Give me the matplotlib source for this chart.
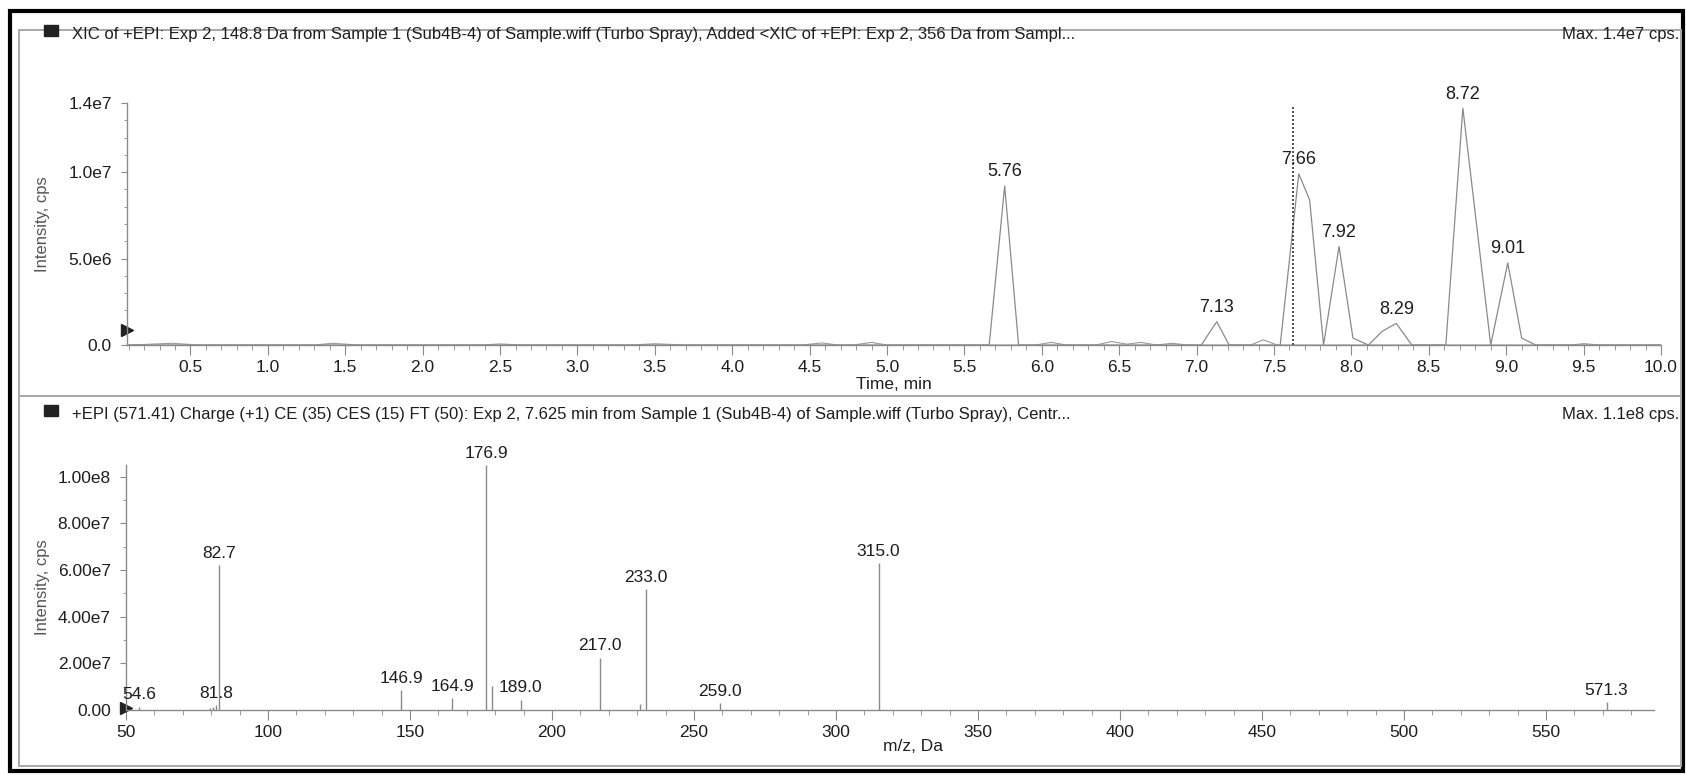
import matplotlib
matplotlib.use("Agg")
import matplotlib.pyplot as plt
from matplotlib.patches import Rectangle
from matplotlib.ticker import MultipleLocator, FixedLocator

plt.rcParams['font.family'] = ['Liberation Sans', 'DejaVu Sans']

# --- XIC (time in min, intensity in cps) ---
xic_t = [0.09, 5.66, 5.76, 5.85, 7.03, 7.13, 7.21, 7.54, 7.66, 7.73, 7.82, 7.92,
         8.01, 8.11, 8.20, 8.29, 8.39, 8.61, 8.72, 8.90, 9.01, 9.10, 9.19, 10.0]
xic_i = [0, 0, 9.2e6, 0, 0, 1.35e6, 0, 0, 9.9e6, 8.4e6, 0, 5.7e6,
         0.4e6, 0, 0.8e6, 1.25e6, 0, 0, 1.37e7, 0, 4.75e6, 0.4e6, 0, 0]

# second added trace, only small bumps
xic2_t = [0.09, 0.2, 0.38, 0.55, 1.3, 1.42, 1.58, 2.38, 2.5, 2.64, 3.35, 3.5, 3.7,
          4.45, 4.58, 4.68, 4.78, 4.9, 5.0, 5.96, 6.06, 6.16, 6.35, 6.45, 6.55,
          6.64, 6.74, 6.84, 6.94, 7.35, 7.43, 7.52, 9.42, 9.5, 9.6, 10.0]
xic2_i = [0, 0.03e6, 0.1e6, 0, 0, 0.1e6, 0, 0, 0.06e6, 0, 0, 0.07e6, 0,
          0, 0.12e6, 0, 0, 0.15e6, 0, 0, 0.15e6, 0, 0, 0.2e6, 0.05e6,
          0.15e6, 0, 0.1e6, 0, 0, 0.3e6, 0, 0, 0.08e6, 0, 0]

xic_labels = [5.76, 7.13, 7.66, 7.92, 8.29, 8.72, 9.01]
spec_rt = 7.625

xic_yticks = [0, 5e6, 1e7, 1.4e7]
xic_yticklabels = ['0.0', '5.0e6', '1.0e7', '1.4e7']

# --- product ion spectrum (m/z, cps) ---
spec_mz = [54.6, 79.6, 80.6, 81.8, 82.7, 146.9, 164.9, 176.9, 178.9, 189.0,
           217.0, 231.0, 233.0, 259.0, 315.0, 571.3]
spec_i = [0.15e7, 0.1e7, 0.15e7, 0.2e7, 6.2e7, 0.85e7, 0.5e7, 1.05e8, 1.02e7,
          0.45e7, 2.25e7, 0.27e7, 5.2e7, 0.3e7, 6.3e7, 0.35e7]
spec_labels = [54.6, 81.8, 82.7, 146.9, 164.9, 176.9, 189.0, 217.0, 233.0,
               259.0, 315.0, 571.3]

spec_yticks = [0, 2e7, 4e7, 6e7, 8e7, 1e8]
spec_yticklabels = ['0.00', '2.00e7', '4.00e7', '6.00e7', '8.00e7', '1.00e8']

header_top = ("XIC of +EPI: Exp 2, 148.8 Da from Sample 1 (Sub4B-4) of Sample.wiff "
              "(Turbo Spray), Added <XIC of +EPI: Exp 2, 356 Da from Sampl...")
header_bot = ("+EPI (571.41) Charge (+1) CE (35) CES (15) FT (50): Exp 2, 7.625 min "
              "from Sample 1 (Sub4B-4) of Sample.wiff (Turbo Spray), Centr...")

W, H = 1686, 775
LINE = '#8a8a8a'
TXT = '#1e1e1e'


def fx(px):
    return px / W


def fy(py):
    return 1 - py / H


fig = plt.figure(figsize=(W / 100, H / 100), dpi=100)

# frames: outer black border, grey panel boxes
fig.patches.append(Rectangle((fx(10), fy(771)), fx(1673) - fx(0), fy(0) - fy(760),
                             transform=fig.transFigure, fill=False, lw=3.0,
                             ec='black'))
for top, bot in [(30, 396), (396, 766)]:
    fig.patches.append(Rectangle((fx(19), fy(bot)), fx(1662), fy(0) - fy(bot - top),
                                 transform=fig.transFigure, fill=False, lw=1.4,
                                 ec='#a8a8a8'))

# panel headers
for yc, txt, mx in [(35, header_top, 'Max. 1.4e7 cps.'),
                    (415, header_bot, 'Max. 1.1e8 cps.')]:
    fig.patches.append(Rectangle((fx(44), fy(yc + 1)), fx(14), fy(0) - fy(11),
                                 transform=fig.transFigure, color='#222'))
    fig.text(fx(72), fy(yc), txt, fontsize=12, color=TXT, va='center', ha='left')
    fig.text(fx(1679), fy(yc), mx, fontsize=12, color=TXT, va='center', ha='right')


def style_axes(ax):
    for s in ['top', 'right']:
        ax.spines[s].set_visible(False)
    for s in ['left', 'bottom']:
        ax.spines[s].set_color(LINE)
        ax.spines[s].set_linewidth(1.0)
    ax.tick_params(which='both', colors=LINE, labelcolor=TXT, labelsize=12.5)
    ax.tick_params(axis='x', which='major', length=7, direction='out', pad=4)
    ax.tick_params(axis='x', which='minor', length=3.5, direction='out')
    ax.tick_params(axis='y', which='major', length=4, direction='out', pad=7)
    ax.tick_params(axis='y', which='minor', length=2.5, direction='out')
    ax.set_facecolor('none')


# --- top: XIC ---
ax1 = fig.add_axes([fx(127), fy(345), fx(1661) - fx(127), fy(103) - fy(345)])
ax1.plot(xic2_t, xic2_i, color='#9a9a9a', lw=0.8)
ax1.plot(xic_t, xic_i, color='#8a8a8a', lw=0.9)
ax1.plot([spec_rt, spec_rt], [0, 1.39e7], color='#333', lw=1.2, ls=(0, (1.2, 1.2)))
for rt in xic_labels:
    k = min(range(len(xic_t)), key=lambda j: abs(xic_t[j] - rt))
    ax1.annotate(f'{rt:.2f}', (xic_t[k], xic_i[k]), xytext=(0, 4),
                 textcoords='offset points', ha='center', va='bottom',
                 fontsize=13, color=TXT)
ax1.plot([0.09], [0.85e6], marker='>', color='#222', ms=9, clip_on=False)
ax1.set_xlim(0.09, 10.0)
ax1.set_ylim(0, 1.4e7)
ax1.xaxis.set_major_locator(FixedLocator([x / 2 for x in range(1, 21)]))
ax1.xaxis.set_minor_locator(MultipleLocator(0.1))
ax1.set_xticklabels([f'{x / 2:.1f}' for x in range(1, 21)])
ax1.yaxis.set_major_locator(FixedLocator(xic_yticks))
ax1.set_yticklabels(xic_yticklabels)
ax1.yaxis.set_minor_locator(MultipleLocator(1e6))
style_axes(ax1)
ax1.set_xlabel('Time, min', fontsize=12.5, color=TXT, labelpad=1)
ax1.set_ylabel('Intensity, cps', fontsize=12, color='#555')
ax1.yaxis.set_label_coords(-0.05, 0.5)

# --- bottom: spectrum ---
ax2 = fig.add_axes([fx(126), fy(710), fx(1654) - fx(126), fy(465) - fy(710)])
ax2.vlines(spec_mz, 0, spec_i, color='#8a8a8a', lw=1.0)
for mz in spec_labels:
    k = spec_mz.index(mz)
    ax2.annotate(f'{mz:.1f}', (mz, spec_i[k]), xytext=(0, 3),
                 textcoords='offset points', ha='center', va='bottom',
                 fontsize=12.5, color=TXT)
ax2.plot([50], [0.1e7], marker='>', color='#222', ms=9, clip_on=False)
ax2.set_xlim(50, 588)
ax2.set_ylim(0, 1.05e8)
ax2.xaxis.set_major_locator(FixedLocator(list(range(50, 551, 50))))
ax2.xaxis.set_minor_locator(MultipleLocator(10))
ax2.yaxis.set_major_locator(FixedLocator(spec_yticks))
ax2.set_yticklabels(spec_yticklabels)
ax2.yaxis.set_minor_locator(MultipleLocator(1e7))
style_axes(ax2)
ax2.set_xlabel('m/z, Da', fontsize=12.5, color=TXT)
ax2.xaxis.set_label_coords(0.515, -0.12)
ax2.set_ylabel('Intensity, cps', fontsize=12, color='#555')
ax2.yaxis.set_label_coords(-0.05, 0.5)

fig.savefig('out.png', dpi=100)
